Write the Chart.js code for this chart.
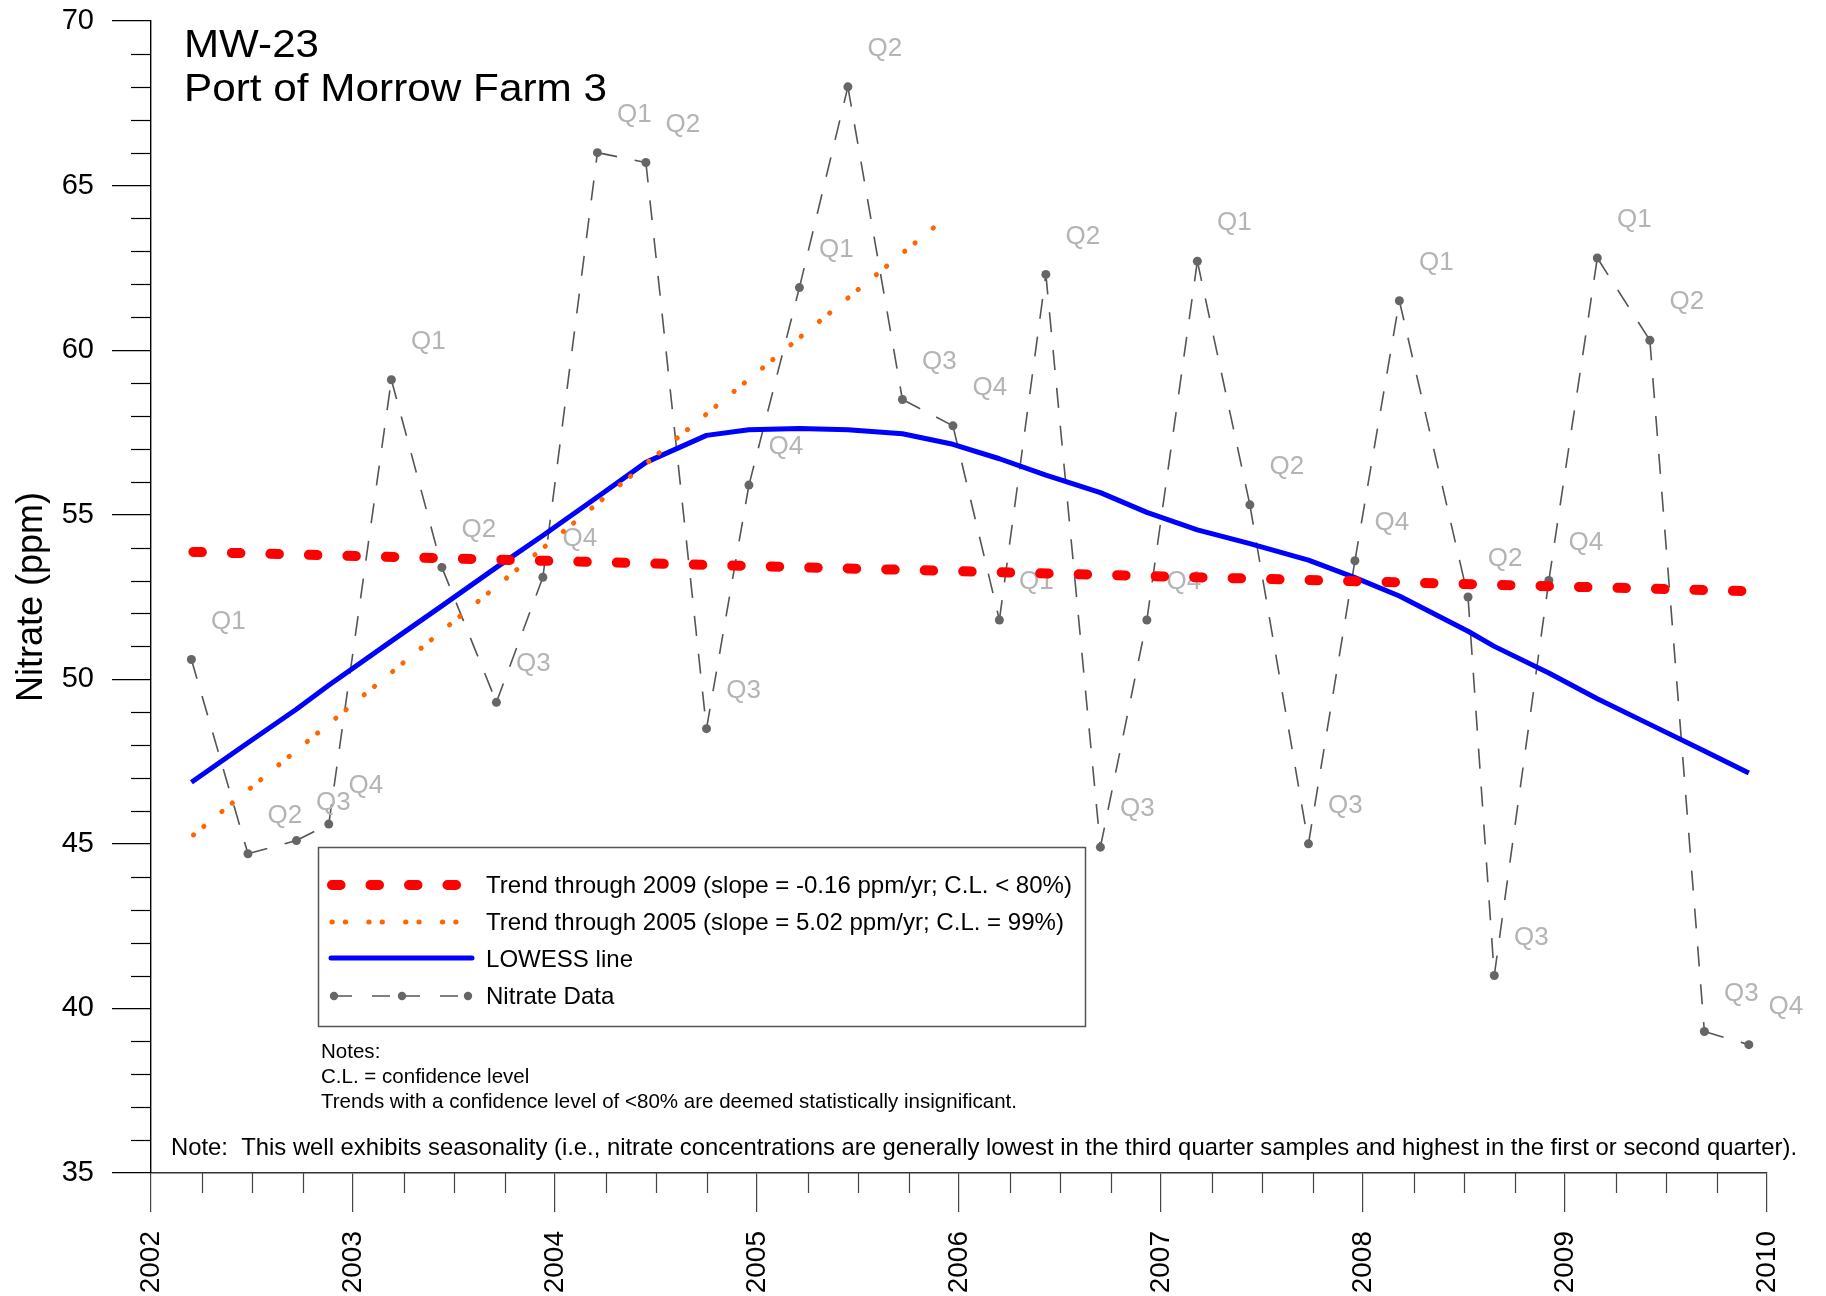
<!DOCTYPE html>
<html>
<head>
<meta charset="utf-8">
<style>
  html, body { margin: 0; padding: 0; background: #fff; }
  #wrap { width: 1826px; height: 1296px; }
</style>
<script src="https://cdn.jsdelivr.net/npm/chart.js@4.4.1/dist/chart.umd.min.js"></script>
</head>
<body>
<div id="wrap"><canvas id="chart" width="1826" height="1296"></canvas></div>
<script>
// sample dates (decimal years) and nitrate values
var sampleDates = [
    2002.20, 2002.48, 2002.72, 2002.88,
    2003.19, 2003.44, 2003.71, 2003.94,
    2004.21, 2004.45, 2004.75, 2004.96,
    2005.21, 2005.45, 2005.72, 2005.97,
    2006.20, 2006.43, 2006.70, 2006.93,
    2007.18, 2007.44, 2007.73, 2007.96,
    2008.18, 2008.52, 2008.65, 2008.92,
    2009.16, 2009.42, 2009.69, 2009.91
];
var nitrate = [
    50.6, 44.7, 45.1, 45.6,
    59.1, 53.4, 49.3, 53.1,
    66.0, 65.7, 48.5, 55.9,
    61.9, 68.0, 58.5, 57.7,
    51.8, 62.3, 44.9, 51.8,
    62.7, 55.3, 45.0, 53.6,
    61.5, 52.5, 41.0, 53.0,
    62.8, 60.3, 39.3, 38.9
];
var quarterLabels = [
    'Q1', 'Q2', 'Q3', 'Q4', 'Q1', 'Q2', 'Q3', 'Q4',
    'Q1', 'Q2', 'Q3', 'Q4', 'Q1', 'Q2', 'Q3', 'Q4',
    'Q1', 'Q2', 'Q3', 'Q4', 'Q1', 'Q2', 'Q3', 'Q4',
    'Q1', 'Q2', 'Q3', 'Q4', 'Q1', 'Q2', 'Q3', 'Q4'
];
var lowess = [
    46.87, 48.07, 49.09, 49.82,
    51.16, 52.23, 53.40, 54.37,
    55.54, 56.59, 57.41, 57.58,
    57.62, 57.58, 57.46, 57.14,
    56.70, 56.20, 55.67, 55.07,
    54.54, 54.12, 53.62, 53.09,
    52.53, 51.46, 51.00, 50.19,
    49.41, 48.63, 47.82, 47.15
];
var trend2009Dates = [2002.21, 2009.89];
var trend2009Values = [53.87, 52.68];
var trend2005Dates = [2002.21, 2005.90];
var trend2005Values = [45.27, 63.85];

var yTickLabels = [35, 40, 45, 50, 55, 60, 65, 70];
var xTickLabels = [2002, 2003, 2004, 2005, 2006, 2007, 2008, 2009, 2010];

var titleLines = ['MW-23', 'Port of Morrow Farm 3'];
var legendLabels = [
    'Trend through 2009 (slope = -0.16 ppm/yr; C.L. < 80%)',
    'Trend through 2005 (slope = 5.02 ppm/yr; C.L. = 99%)',
    'LOWESS line',
    'Nitrate Data'
];
var noteLines = [
    'Notes:',
    'C.L. = confidence level',
    'Trends with a confidence level of <80% are deemed statistically insignificant.'
];
var seasonNote = 'Note:  This well exhibits seasonality (i.e., nitrate concentrations are generally lowest in the third quarter samples and highest in the first or second quarter).';

var FONT = '"Liberation Sans", Arial, sans-serif';

function pts(xs, ys) {
    return xs.map(function (x, i) { return { x: x, y: ys[i] }; });
}

// draw text squeezed/stretched to a given width
function fitText(ctx, text, x, y, width) {
    var w = ctx.measureText(text).width;
    var k = width ? width / w : 1;
    ctx.save();
    ctx.translate(x, y);
    ctx.scale(k, 1);
    ctx.fillText(text, 0, 0);
    ctx.restore();
}

var overlay = {
    id: 'overlay',
    afterDatasetDraw: function (chart, args) {
        if (args.index !== 3) return;
        var ctx = chart.ctx;
        var meta = chart.getDatasetMeta(3);
        ctx.save();
        ctx.font = '26px ' + FONT;
        ctx.fillStyle = '#b4b4b4';
        ctx.textAlign = 'center';
        ctx.textBaseline = 'middle';
        meta.data.forEach(function (pt, i) {
            ctx.fillText(quarterLabels[i], pt.x + 37, pt.y - 38);
        });
        ctx.restore();
    },
    afterDraw: function (chart) {
        var ctx = chart.ctx;
        var xs = chart.scales.x, ys = chart.scales.y;
        ctx.save();

        // minor ticks
        ctx.lineWidth = 1.2;
        ctx.strokeStyle = '#000';
        ys.ticks.forEach(function (t) {
            if (yTickLabels.indexOf(t.value) >= 0) return;
            var y = Math.round(ys.getPixelForValue(t.value)) + 0.5;
            ctx.beginPath();
            ctx.moveTo(xs.left - 20, y);
            ctx.lineTo(xs.left, y);
            ctx.stroke();
        });
        ctx.strokeStyle = '#444';
        xs.ticks.forEach(function (t) {
            if (xTickLabels.indexOf(t.value) >= 0) return;
            var x = Math.round(xs.getPixelForValue(t.value)) + 0.5;
            ctx.beginPath();
            ctx.moveTo(x, ys.bottom);
            ctx.lineTo(x, ys.bottom + 20);
            ctx.stroke();
        });

        // title
        ctx.fillStyle = '#000';
        ctx.font = '39px ' + FONT;
        fitText(ctx, titleLines[0], 184, 57, 135);
        fitText(ctx, titleLines[1], 184, 101, 423);

        // legend box
        ctx.fillStyle = '#fff';
        ctx.fillRect(318, 847, 767, 179);
        ctx.strokeStyle = '#555';
        ctx.lineWidth = 1.5;
        ctx.strokeRect(318.5, 847.5, 767, 179);

        // legend samples
        ctx.lineCap = 'round';
        ctx.strokeStyle = '#ff0000';
        ctx.lineWidth = 10;
        ctx.setLineDash([8.5, 30]);
        ctx.beginPath(); ctx.moveTo(332, 885); ctx.lineTo(462, 885); ctx.stroke();

        ctx.strokeStyle = '#ff6600';
        ctx.lineWidth = 5;
        ctx.setLineDash([0.3, 13, 0.3, 23.2]);
        ctx.beginPath(); ctx.moveTo(332, 922); ctx.lineTo(460, 922); ctx.stroke();

        ctx.strokeStyle = '#0000ff';
        ctx.lineWidth = 5;
        ctx.setLineDash([]);
        ctx.beginPath(); ctx.moveTo(331, 958); ctx.lineTo(472, 958); ctx.stroke();

        ctx.lineCap = 'butt';
        ctx.strokeStyle = '#555';
        ctx.lineWidth = 1.6;
        ctx.setLineDash([18, 20]);
        ctx.beginPath(); ctx.moveTo(334, 996); ctx.lineTo(402, 996); ctx.stroke();
        ctx.beginPath(); ctx.moveTo(402, 996); ctx.lineTo(468, 996); ctx.stroke();
        ctx.setLineDash([]);
        ctx.fillStyle = '#666';
        [334, 402, 468].forEach(function (x) {
            ctx.beginPath(); ctx.arc(x, 996, 4.2, 0, Math.PI * 2); ctx.fill();
        });

        // legend text
        ctx.fillStyle = '#000';
        ctx.font = '24px ' + FONT;
        var k = 586 / ctx.measureText(legendLabels[0]).width;
        var base = [893, 930, 967, 1004];
        legendLabels.forEach(function (s, i) {
            fitText(ctx, s, 486, base[i], ctx.measureText(s).width * k);
        });

        // notes
        ctx.font = '21px ' + FONT;
        var k2 = 696 / ctx.measureText(noteLines[2]).width;
        var nb = [1058, 1083, 1108];
        noteLines.forEach(function (s, i) {
            fitText(ctx, s, 321, nb[i], ctx.measureText(s).width * k2);
        });

        ctx.font = '24px ' + FONT;
        fitText(ctx, seasonNote, 171, 1155, 1626);

        ctx.restore();
    }
};

var ctx = document.getElementById('chart').getContext('2d');
new Chart(ctx, {
    type: 'line',
    data: {
        datasets: [
            {
                label: legendLabels[0],
                data: pts(trend2009Dates, trend2009Values),
                borderColor: '#ff0000',
                borderWidth: 10,
                borderDash: [8.5, 30],
                borderCapStyle: 'round',
                pointRadius: 0
            },
            {
                label: legendLabels[1],
                data: pts(trend2005Dates, trend2005Values),
                borderColor: '#ff6600',
                borderWidth: 5,
                borderDash: [0.3, 13, 0.3, 23.2],
                borderCapStyle: 'round',
                pointRadius: 0
            },
            {
                label: legendLabels[2],
                data: pts(sampleDates, lowess),
                borderColor: '#0000ff',
                borderWidth: 5,
                borderJoinStyle: 'round',
                pointRadius: 0
            },
            {
                label: legendLabels[3],
                data: pts(sampleDates, nitrate),
                borderColor: '#555',
                borderWidth: 1.6,
                borderDash: [20, 18],
                // restart the dash pattern at every sample
                segment: {
                    borderDashOffset: function (c) { return c.p0DataIndex % 2 ? 0.01 : 0; }
                },
                pointRadius: 4.5,
                pointBackgroundColor: '#666',
                pointBorderWidth: 0
            }
        ]
    },
    options: {
        responsive: false,
        animation: false,
        layout: { padding: { left: 0, right: 59, top: 21, bottom: 0 } },
        plugins: {
            legend: { display: false },
            tooltip: { enabled: false }
        },
        scales: {
            x: {
                type: 'linear',
                min: 2002,
                max: 2010,
                ticks: {
                    stepSize: 0.25,
                    autoSkip: false,
                    minRotation: 90,
                    maxRotation: 90,
                    padding: 19,
                    color: '#000',
                    font: { family: FONT, size: 28 },
                    callback: function (v) { return xTickLabels.indexOf(v) >= 0 ? String(v) : ''; }
                },
                grid: {
                    drawOnChartArea: false,
                    tickLength: 39,
                    lineWidth: 1.2,
                    tickColor: function (c) {
                        return c.tick && xTickLabels.indexOf(c.tick.value) >= 0 ? '#444' : 'rgba(0,0,0,0)';
                    }
                },
                border: { color: '#333', width: 1.6 },
                afterFit: function (s) { s.height = 123; }
            },
            y: {
                min: 35,
                max: 70,
                ticks: {
                    stepSize: 1,
                    autoSkip: false,
                    padding: 18,
                    color: '#000',
                    font: { family: FONT, size: 29 },
                    callback: function (v) { return yTickLabels.indexOf(v) >= 0 ? String(v) : ''; }
                },
                grid: {
                    drawOnChartArea: false,
                    tickLength: 39,
                    lineWidth: 1.2,
                    tickColor: function (c) {
                        return c.tick && yTickLabels.indexOf(c.tick.value) >= 0 ? '#000' : 'rgba(0,0,0,0)';
                    }
                },
                border: { color: '#000', width: 1.4 },
                title: {
                    display: true,
                    text: 'Nitrate (ppm)',
                    color: '#000',
                    font: { family: FONT, size: 36 },
                    padding: { top: 10, bottom: 0 }
                },
                afterFit: function (s) {
                    s.width = 151;
                    s.paddingTop = 0;
                }
            }
        }
    },
    plugins: [overlay]
});
</script>
</body>
</html>
